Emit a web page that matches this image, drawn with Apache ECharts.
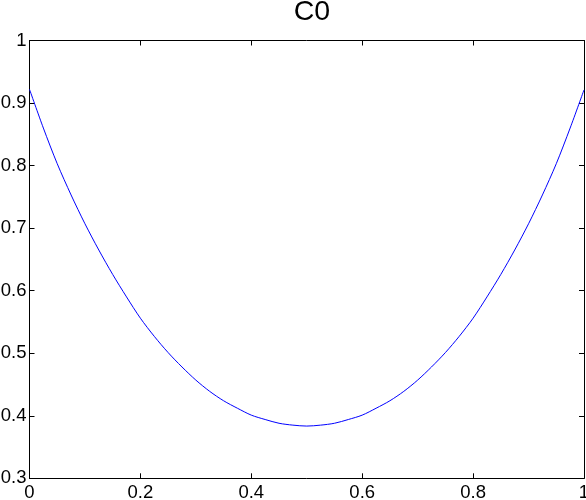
<!DOCTYPE html>
<html>
<head>
<meta charset="utf-8">
<script src="https://cdn.jsdelivr.net/npm/echarts@6/dist/echarts.min.js"></script>
<style>
html,body{margin:0;padding:0;background:#fff;}
#chart{width:586px;height:500px;}
</style>
</head>
<body>
<div id="chart"></div>
<script>
const titleText = 'C0';
const xTicks = [0, 0.2, 0.4, 0.6, 0.8, 1];
const yTicks = [0.3, 0.4, 0.5, 0.6, 0.7, 0.8, 0.9, 1];
const xValues = [0, 0.025, 0.05, 0.075, 0.1, 0.125, 0.15, 0.175, 0.2, 0.225,
                 0.25, 0.275, 0.3, 0.325, 0.35, 0.375, 0.4, 0.425, 0.45, 0.475,
                 0.5, 0.525, 0.55, 0.575, 0.6, 0.625, 0.65, 0.675, 0.7, 0.725,
                 0.75, 0.775, 0.8, 0.825, 0.85, 0.875, 0.9, 0.925, 0.95, 0.975, 1];
const yValues = [0.922, 0.860, 0.803, 0.753, 0.707, 0.665, 0.626, 0.590, 0.556, 0.527,
                 0.501, 0.478, 0.457, 0.439, 0.424, 0.412, 0.401, 0.394, 0.388, 0.385,
                 0.3835, 0.385, 0.388, 0.394, 0.401, 0.412, 0.424, 0.439, 0.457, 0.478,
                 0.501, 0.527, 0.556, 0.590, 0.626, 0.665, 0.707, 0.753, 0.803, 0.860, 0.921];

const font = '"Liberation Sans", Arial, Helvetica, sans-serif';
const data = xValues.map((x, i) => [x, yValues[i]]);
const chart = echarts.init(document.getElementById('chart'), null, {renderer: 'canvas'});

const axisCommon = {
  type: 'value',
  axisLine: {show: true, onZero: false, lineStyle: {color: '#000', width: 1}},
  axisTick: {show: true, inside: true, length: 5, lineStyle: {color: '#000', width: 1}},
  splitLine: {show: false}
};

chart.setOption({
  animation: false,
  backgroundColor: '#fff',
  title: {
    text: titleText,
    left: 307,
    top: -7,
    textAlign: 'center',
    textStyle: {fontFamily: font, fontSize: 28.5, fontWeight: 'normal', color: '#000'}
  },
  grid: {left: 29.5, right: 2, top: 40.5, bottom: 21.7, containLabel: false, outerBoundsMode: 'none'},
  xAxis: [
    Object.assign({}, axisCommon, {
      position: 'bottom', min: xTicks[0], max: xTicks[xTicks.length - 1], interval: 0.2,
      axisLabel: {show: true, margin: 5, fontFamily: font, fontSize: 18.5, color: '#000',
        hideOverlap: false, showMinLabel: true, showMaxLabel: true,
        formatter: v => String(+v.toFixed(1))}
    }),
    Object.assign({}, axisCommon, {
      position: 'top', min: xTicks[0], max: xTicks[xTicks.length - 1], interval: 0.2,
      axisLabel: {show: false}
    })
  ],
  yAxis: [
    Object.assign({}, axisCommon, {
      position: 'left', min: yTicks[0], max: yTicks[yTicks.length - 1], interval: 0.1,
      axisLabel: {show: true, margin: 3, fontFamily: font, fontSize: 18.5, color: '#000',
        hideOverlap: false, showMinLabel: true, showMaxLabel: true,
        formatter: v => String(+v.toFixed(1))}
    }),
    Object.assign({}, axisCommon, {
      position: 'right', min: yTicks[0], max: yTicks[yTicks.length - 1], interval: 0.1,
      axisLabel: {show: false}
    })
  ],
  series: [{
    type: 'line',
    data: data,
    xAxisIndex: 0,
    yAxisIndex: 0,
    showSymbol: false,
    smooth: 0.3,
    lineStyle: {color: '#0000ff', width: 1},
    itemStyle: {color: '#0000ff'}
  }]
});
</script>
</body>
</html>
